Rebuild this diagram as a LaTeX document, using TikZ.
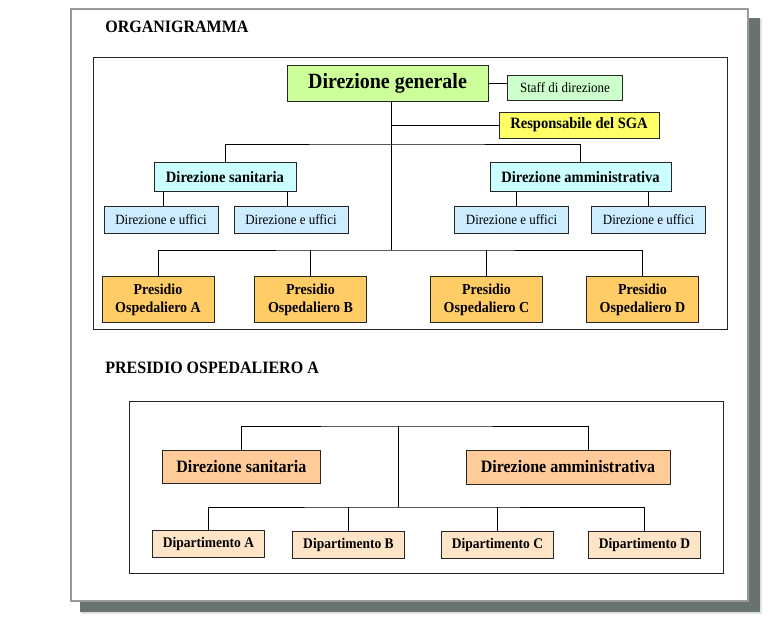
\documentclass[tikz,border=0pt]{standalone}
\usepackage{fontspec}
\setmainfont[FakeStretch=0.92]{Liberation Serif}
\definecolor{dgfill}{RGB}{204,255,153}
\definecolor{stafffill}{RGB}{204,255,204}
\definecolor{sgafill}{RGB}{255,255,102}
\definecolor{dirfill}{RGB}{204,255,255}
\definecolor{uffill}{RGB}{204,236,255}
\definecolor{presfill}{RGB}{255,204,102}
\definecolor{dir2fill}{RGB}{255,204,153}
\definecolor{dipfill}{RGB}{255,228,200}
\definecolor{shadowgray}{RGB}{104,114,111}
\begin{document}
\begin{tikzpicture}[x=1pt, y=-1pt, line width=0.7pt,
	box/.style={draw=black!85, inner sep=0pt, align=center, line width=0.9pt},
	big/.style={box, font=\fontsize{21.7}{26}\selectfont\bfseries},
	mid/.style={box, font=\fontsize{15.8}{18}\selectfont\bfseries},
	small/.style={box, font=\fontsize{14.1}{16}\selectfont},
	uff/.style={small, fill=uffill, minimum width=114pt, minimum height=27pt},
	pres/.style={box, fill=presfill, minimum width=112pt, minimum height=46pt, font=\fontsize{15.2}{17.6}\selectfont\bfseries},
	dip/.style={box, fill=dipfill, minimum width=112pt, minimum height=27pt, font=\fontsize{14.7}{17}\selectfont\bfseries},
	dir2/.style={box, fill=dir2fill, minimum height=33pt, font=\fontsize{17.4}{20}\selectfont\bfseries},
	title/.style={anchor=west, inner sep=0pt, font=\fontsize{17.4}{20}\selectfont\bfseries}
]
	\useasboundingbox (0,0) rectangle (776,620);
	\fill[black!12] (81,19) rectangle (762,614);
	\fill[shadowgray] (80,18) rectangle (760,612);
	\draw[black!40, fill=white, line width=1.4pt] (71,9) rectangle (748,601);
	\draw[black!85] (93,57) rectangle (727,329);
	\draw[black!85] (129,401) rectangle (723,573);
	\path
		(105,27) node[title] (t1) {ORGANIGRAMMA}
		(105,368) node[title] (t2) {PRESIDIO OSPEDALIERO A}
		(387.5,83.4) node[big, fill=dgfill, minimum width=201pt, minimum height=36.5pt] (dg) {Direzione generale}
		(565,87.5) node[small, fill=stafffill, minimum width=115pt, minimum height=25pt] (staff) {Staff di direzione}
		(579,125) node[mid, fill=sgafill, minimum width=160pt, minimum height=26pt] (sga) {Responsabile del SGA}
		(225,176.7) node[mid, fill=dirfill, minimum width=142pt, minimum height=29pt] (ds) {Direzione sanitaria}
		(580.5,176.7) node[mid, fill=dirfill, minimum width=181pt, minimum height=29pt] (da) {Direzione amministrativa}
		(161,219.5) node[uff] (du1) {Direzione e uffici}
		(291,219.5) node[uff] (du2) {Direzione e uffici}
		(511.5,219.5) node[uff] (du3) {Direzione e uffici}
		(648.5,219.5) node[uff] (du4) {Direzione e uffici}
		(158,299.7) node[pres] (pa) {Presidio\\Ospedaliero A}
		(310.5,299.7) node[pres] (pb) {Presidio\\Ospedaliero B}
		(486.5,299.7) node[pres] (pc) {Presidio\\Ospedaliero C}
		(642.5,299.7) node[pres] (pd) {Presidio\\Ospedaliero D}
		(241.3,467) node[dir2, minimum width=158pt] (ds2) {Direzione sanitaria}
		(568,467) node[dir2, minimum width=204pt, minimum height=34pt] (da2) {Direzione amministrativa}
		(208.5,543.5) node[dip] (dpa) {Dipartimento A}
		(348.5,545.2) node[dip] (dpb) {Dipartimento B}
		(497.5,545.2) node[dip] (dpc) {Dipartimento C}
		(644.5,545.2) node[dip] (dpd) {Dipartimento D}
	;
	\path
		(391,144) coordinate (bus1)
		(391,250) coordinate (bus2)
		(398.5,426) coordinate (hub1)
		(588,426) coordinate (hub1r)
		(398.5,507) coordinate (hub2)
	;
	\draw
		(dg.east) -- (dg.east -| staff.west)
		(dg.south -| bus1) -- (bus2)
		(bus1 |- sga.west) -- (sga.west)
		(ds.north) |- (bus1) -| (da.north)
		([xshift=2pt]du1.north) -- ([xshift=2pt]du1.north |- ds.south)
		([xshift=-4pt]du2.north) -- ([xshift=-4pt]du2.north |- ds.south)
		([xshift=4.5pt]du3.north) -- ([xshift=4.5pt]du3.north |- da.south)
		(du4.north) -- (du4.north |- da.south)
		(pa.north) |- (bus2) -| (pd.north)
		(pb.north) -- (pb.north |- bus2)
		(pc.north) -- (pc.north |- bus2)
	;
	\draw[line width=0.6pt]
		(ds2.north) |- (hub1) -- (hub1r) -- (hub1r |- da2.north)
		(hub1) -- (hub2)
		(dpa.north) |- (hub2) -| (dpd.north)
		(dpb.north) -- (dpb.north |- hub2)
		(dpc.north) -- (dpc.north |- hub2)
	;
\end{tikzpicture}
\end{document}
